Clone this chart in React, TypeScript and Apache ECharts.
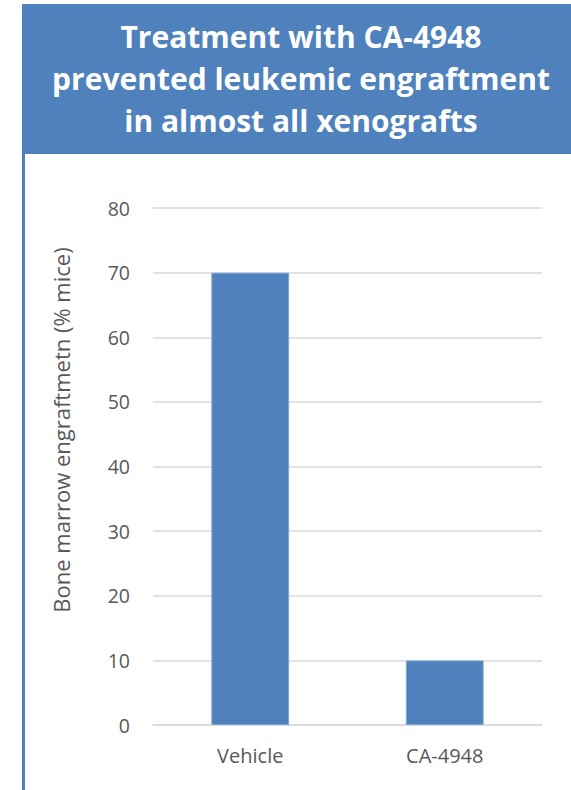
import React, { useEffect, useRef } from "react";
import * as echarts from "echarts";

const categories = ["Vehicle", "CA-4948"];
const engraftment = [70, 10];
const yTicks = [0, 80, 10];
const titleLines = [
  "Treatment with CA-4948",
  "prevented leukemic engraftment",
  "in almost all xenografts",
];
const yAxisName = "Bone marrow engraftmetn (% mice)";

export default function App() {
  const ref = useRef<HTMLDivElement>(null);
  useEffect(() => {
    document.body.style.margin = "0";
    const chart = echarts.init(ref.current!, null, { renderer: "svg" });
    const blue = "#4f81bd";
    const font = "'Open Sans', sans-serif";
    chart.setOption({
      animation: false,
      backgroundColor: "#ffffff",
      grid: { left: 153, right: 29, top: 208, bottom: 65, containLabel: false },
      xAxis: {
        type: "category",
        data: categories,
        axisLine: { show: true, lineStyle: { color: "#d9d9d9", width: 1.5 } },
        axisTick: { show: false },
        axisLabel: { color: "#595959", fontSize: 20, fontFamily: font, margin: 20 },
      },
      yAxis: {
        type: "value",
        min: yTicks[0],
        max: yTicks[1],
        interval: yTicks[2],
        axisLine: { show: false },
        axisTick: { show: false },
        axisLabel: { color: "#595959", fontSize: 19.5, fontFamily: font, margin: 23 },
        splitLine: { lineStyle: { color: "#d9d9d9", width: 1.5 } },
      },
      series: [
        {
          type: "bar",
          data: engraftment,
          barWidth: "40%",
          itemStyle: { color: blue, borderColor: "#7ea6d8", borderWidth: 1 },
        },
      ],
      graphic: [
        { type: "rect", shape: { x: 22, y: 4, width: 549, height: 150 }, style: { fill: blue }, z: 10 },
        { type: "rect", shape: { x: 22, y: 154, width: 3, height: 636 }, style: { fill: blue }, z: 10 },
        ...titleLines.map((t, i) => ({
          type: "text",
          x: 301,
          y: 36 + i * 42,
          z: 11,
          style: {
            text: t,
            fill: "#ffffff",
            font: `bold 30px ${font}`,
            textAlign: "center",
            textVerticalAlign: "middle",
          },
        })),
        {
          type: "text",
          x: 61,
          y: 430,
          rotation: Math.PI / 2,
          z: 11,
          style: {
            text: yAxisName,
            fill: "#595959",
            font: `22px ${font}`,
            textAlign: "center",
            textVerticalAlign: "middle",
          },
        },
      ],
    });
    return () => chart.dispose();
  }, []);
  return (
    <div
      ref={ref}
      style={{ position: "absolute", left: 0, top: 0, width: 571, height: 790 }}
    />
  );
}
